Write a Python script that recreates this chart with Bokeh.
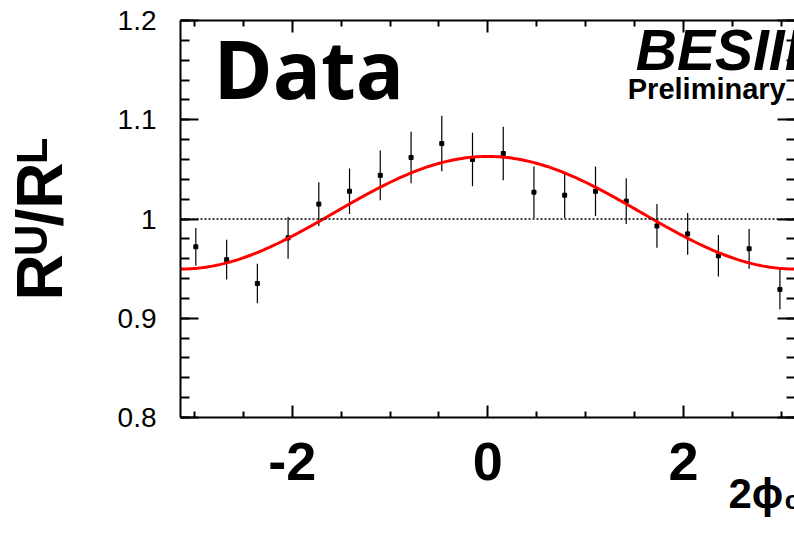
import math
import numpy as np
from bokeh.plotting import figure
from bokeh.models import Range1d, LinearAxis, FixedTicker, Span, Label, NumeralTickFormatter, ColumnDataSource
from bokeh.embed import file_html
from bokeh.resources import INLINE

# ---- data ----
phi_centers = [-2.985, -2.670, -2.356, -2.042, -1.728, -1.414, -1.100, -0.785, -0.471, -0.157,
               0.157, 0.471, 0.785, 1.100, 1.414, 1.728, 2.042, 2.356, 2.670, 2.985]
ratio = [0.972, 0.959, 0.935, 0.981, 1.015, 1.028, 1.044, 1.062, 1.076, 1.060,
         1.066, 1.027, 1.024, 1.028, 1.018, 0.993, 0.985, 0.963, 0.970, 0.929]
ratio_err = [0.019, 0.020, 0.020, 0.021, 0.022, 0.023, 0.025, 0.026, 0.028, 0.027,
             0.027, 0.026, 0.023, 0.025, 0.023, 0.022, 0.021, 0.021, 0.020, 0.020]
fit_const = 1.0063   # fit: c + a*cos(2phi0)
fit_amp = 0.0567
x_major = [-2, 0, 2]
x_minor = [-3, -2.5, -1.5, -1, -0.5, 0.5, 1, 1.5, 2.5, 3]
y_major = [0.8, 0.9, 1.0, 1.1, 1.2]
y_minor = [round(0.8 + 0.02 * i, 2) for i in range(21)]

# ---- layout geometry (canvas px) ----
W, H = 794, 536
FL, FT, FB = 179, 20, 417          # frame left/top/bottom
PXU = 98.0                          # px per x unit
X0 = -math.pi
X1 = X0 + (W - FL) / PXU
Y0, Y1 = 0.8, 1.2

def dx(px):
    return X0 + (px - FL) / PXU

def dy(py):
    return Y1 - (py - FT) * (Y1 - Y0) / (FB - FT)

p = figure(width=W, height=H, x_range=Range1d(X0, X1), y_range=Range1d(Y0, Y1),
           output_backend="svg", toolbar_location=None,
           x_axis_location=None, y_axis_location=None,
           min_border_left=FL, min_border_right=0, min_border_top=FT,
           min_border_bottom=H - FB)
p.outline_line_color = None
p.grid.grid_line_color = None
p.background_fill_color = "white"
p.border_fill_color = "white"

def mk_axis(ticks, minor, tin, mtin, **kw):
    ax = LinearAxis(ticker=FixedTicker(ticks=ticks, minor_ticks=minor),
                    major_tick_in=tin, major_tick_out=0, minor_tick_in=mtin, minor_tick_out=0,
                    axis_line_width=2, major_tick_line_width=2, minor_tick_line_width=2,
                    axis_line_color="black", major_tick_line_color="black",
                    minor_tick_line_color="black", **kw)
    return ax

left = mk_axis(y_major, y_minor, 18, 9,
               major_label_text_font="Liberation Sans", major_label_text_font_size="28px",
               major_label_standoff=24, formatter=NumeralTickFormatter(format="0.[0]"),
               major_label_text_color="black",
               axis_label="R\u1d41/R\u1d38", axis_label_text_font="Liberation Sans",
               axis_label_text_font_style="bold", axis_label_text_font_size="64px",
               axis_label_text_color="black", axis_label_standoff=39)
right = mk_axis(y_major, y_minor, 17, 8, major_label_text_font_size="1px",
                major_label_text_color=None, major_label_standoff=0)
right.axis_line_color = None
# axis title is centred on the frame's right edge: trailing no-break spaces shift it left
below = mk_axis(x_major, x_minor, 12, 6,
                major_label_text_font="Liberation Sans", major_label_text_font_style="bold",
                major_label_text_font_size="54px", major_label_standoff=25,
                major_label_text_color="black", formatter=NumeralTickFormatter(format="0"),
                axis_label="2\u03d5\u2080" + "\u00a0" * 5, axis_label_text_font="Liberation Sans",
                axis_label_text_font_style="bold", axis_label_text_font_size="42px",
                axis_label_text_color="black", axis_label_standoff=-13,
                axis_label_align="end")
above = mk_axis(x_major, x_minor, 12, 6, major_label_text_font_size="1px",
                major_label_text_color=None, major_label_standoff=0)
p.add_layout(left, "left")
p.add_layout(right, "right")
p.add_layout(below, "below")
p.add_layout(above, "above")

p.add_layout(Span(location=1.0, dimension="width", line_color="black", line_width=1.3,
                  line_dash="2 2"))

src = ColumnDataSource(dict(x=phi_centers, y=ratio,
                            lo=[v - e for v, e in zip(ratio, ratio_err)],
                            hi=[v + e for v, e in zip(ratio, ratio_err)]))
p.segment(x0="x", y0="lo", x1="x", y1="hi", source=src, line_color="black", line_width=1.2)
p.scatter(x="x", y="y", source=src, marker="square", size=4, fill_color="black", line_color="black")

xf = np.linspace(-math.pi, math.pi, 300)
p.line(xf, fit_const + fit_amp * np.cos(xf), line_color="#ff0000", line_width=3)

BASE_FIX = 0.38   # empirical baseline correction of the svg backend

def lab(text, px, py, size, font="Liberation Sans", style="bold"):
    p.add_layout(Label(x=dx(px), y=dy(py - BASE_FIX * size), text=text, text_font=font,
                       text_font_style=style, text_font_size=f"{size}px", text_color="black",
                       text_align="left", text_baseline="alphabetic"))

lab("Data", 212, 97, 80, font="Open Sans")
lab("BESIII", 635, 71, 57, style="bold italic")
lab("Preliminary", 627, 100, 29)

open("out.html", "w").write(file_html(p, INLINE))
